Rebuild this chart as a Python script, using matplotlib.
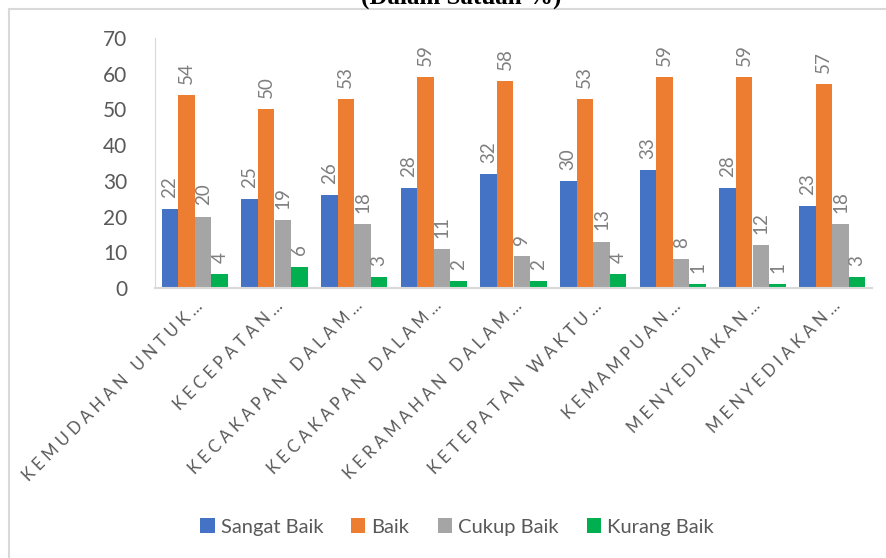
import matplotlib
matplotlib.use('Agg')
import matplotlib.pyplot as plt
from matplotlib.lines import Line2D
import numpy as np

plt.rcParams['font.family'] = ['Lato', 'DejaVu Sans']

categories = ['KEMUDAHAN UNTUK…', 'KECEPATAN…', 'KECAKAPAN DALAM…', 'KECAKAPAN DALAM…',
              'KERAMAHAN DALAM…', 'KETEPATAN WAKTU…', 'KEMAMPUAN…', 'MENYEDIAKAN…',
              'MENYEDIAKAN…']
series_names = ['Sangat Baik', 'Baik', 'Cukup Baik', 'Kurang Baik']
sangat_baik = [22, 25, 26, 28, 32, 30, 33, 28, 23]
baik = [54, 50, 53, 59, 58, 53, 59, 59, 57]
cukup_baik = [20, 19, 18, 11, 9, 13, 8, 12, 18]
kurang_baik = [4, 6, 3, 2, 2, 4, 1, 1, 3]
colors = ['#4472C4', '#ED7D31', '#A5A5A5', '#00B050']

W, H = 886, 558
fig = plt.figure(figsize=(W / 100, H / 100), dpi=100)
ax = fig.add_axes([155 / W, 1 - 288 / H, (872 - 155) / W, 250 / H])

x = np.arange(len(categories))
bw = 0.209
all_series = [sangat_baik, baik, cukup_baik, kurang_baik]
for k, (vals, name, c) in enumerate(zip(all_series, series_names, colors)):
    pos = x + (k - 1.5) * bw
    ax.bar(pos, vals, width=bw, color=c, label=name, zorder=2)
    for px, v in zip(pos, vals):
        ax.annotate(str(v), (px, v), xytext=(0, 8), textcoords='offset points',
                    rotation=90, ha='center', va='bottom', fontsize=13.5, color='#7F7F7F')

ax.set_xlim(-0.5, len(categories) - 0.5)
ax.set_ylim(0, 70)
ax.set_yticks(range(0, 71, 10))
ax.tick_params(axis='y', length=0, labelsize=15, labelcolor='#595959', pad=20)
ax.tick_params(axis='x', length=0, pad=7)
ax.set_xticks(x)
spaced = [' '.join(list(c)) for c in categories]
ax.set_xticklabels(spaced, rotation=45, ha='right', rotation_mode='anchor',
                   fontsize=12, color='#595959')
for s in ['top', 'right']:
    ax.spines[s].set_visible(False)
ax.spines['left'].set_color('#D9D9D9')
ax.spines['bottom'].set_color('#D9D9D9')
ax.spines['bottom'].set_linewidth(1.5)

fig.legend(loc='center', bbox_to_anchor=(457 / W, 1 - 527 / H), ncol=4, frameon=False,
           fontsize=14.5, handlelength=0.7, handleheight=0.7, handletextpad=0.3,
           columnspacing=1.4, labelcolor='#595959')

# outer chart border (only top and left visible)
fig.add_artist(Line2D([9 / W, 1], [1 - 9 / H, 1 - 9 / H], color='#D9D9D9', lw=1.5,
                      transform=fig.transFigure))
fig.add_artist(Line2D([9 / W, 9 / W], [0, 1 - 9 / H], color='#D9D9D9', lw=1.5,
                      transform=fig.transFigure))

fig.text(461 / W, 1 - 4 / H, '(Dalam Satuan %)', ha='center', va='baseline',
         fontsize=18, fontweight='bold', family='Liberation Serif')

fig.savefig('out.png', dpi=100)
